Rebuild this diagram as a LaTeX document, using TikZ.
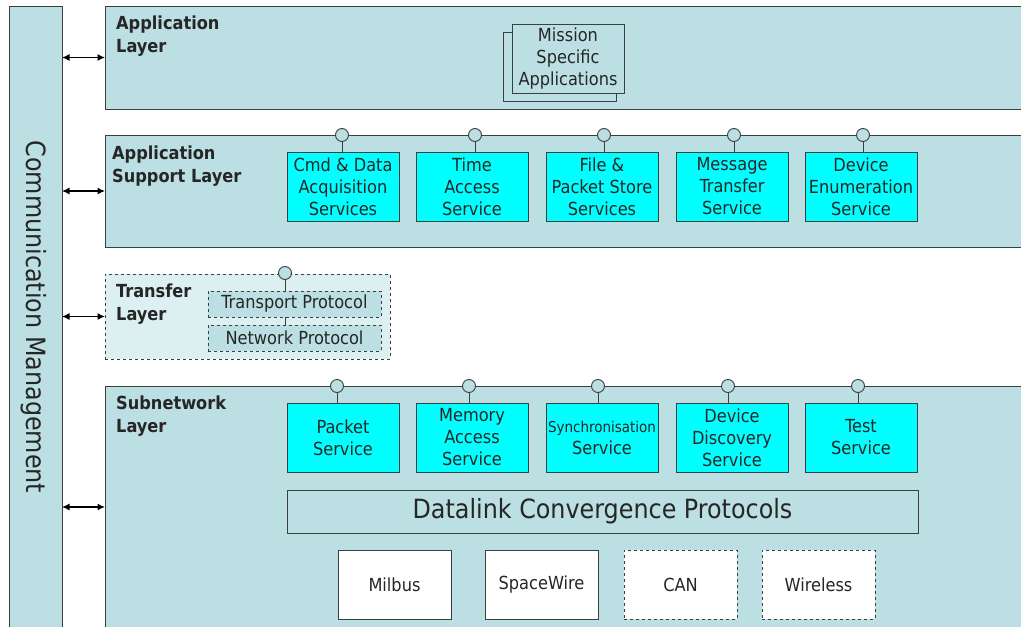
\documentclass[tikz,border=0pt]{standalone}
\usepackage{fontspec}
\setmainfont{DejaVu Sans Condensed}
\usetikzlibrary{arrows.meta,positioning}
\definecolor{layerfill}{HTML}{BBDFE2}
\definecolor{xferfill}{HTML}{DCEFF1}
\definecolor{svcfill}{HTML}{00FFFF}
\definecolor{edge}{HTML}{3A3F40}
\definecolor{ink}{HTML}{262626}
\tikzset{
  layer/.style={draw=edge, fill=layerfill, line width=1pt, anchor=north west, inner sep=0pt, outer sep=0pt},
  laylab/.style={anchor=north west, align=left, text=ink, inner sep=0pt, font=\bfseries\fontsize{18}{23}\selectfont},
  svc/.style={draw=edge, fill=svcfill, line width=0.9pt, minimum width=112pt, minimum height=69pt, anchor=north west,
    align=center, text=ink, inner sep=0pt, outer sep=0pt, font=\fontsize{18}{22}\selectfont},
  phy/.style={draw=edge, fill=white, line width=0.9pt, minimum width=113pt, minimum height=69pt, anchor=north west,
    text=ink, inner sep=0pt, outer sep=0pt, font=\fontsize{18}{22}\selectfont},
  proto/.style={draw=edge, fill=layerfill, dashed, line width=0.9pt, minimum width=173pt, minimum height=26pt,
    anchor=north west, text=ink, inner sep=0pt, outer sep=0pt, font=\fontsize{18}{22}\selectfont},
  sap/.style={circle, draw=edge, fill=layerfill, minimum size=13pt, inner sep=0pt, outer sep=0pt, line width=0.9pt},
  link/.style={{Latex[length=7.5pt,width=7pt]}-{Latex[length=7.5pt,width=7pt]}, line width=1.2pt, black}
}
\begin{document}
\begin{tikzpicture}[x=1pt,y=-1pt]
  \useasboundingbox (0,0) rectangle (1021,627);
  \clip (0,0) rectangle (1021,627);

  % communication management bar
  \node[layer, minimum width=53pt, minimum height=630pt] (cm) at (9,6) {};
  \node[rotate=-90, text=ink, font=\fontsize{26.5}{30}\selectfont] (cmlab) at (34,317) {Communication Management};

  % layers
  \node[layer, minimum width=925pt, minimum height=103pt] (al) at (105,6) {};
  \node[layer, minimum width=925pt, minimum height=112pt] (asl) at (105,135) {};
  \node[layer, dashed, fill=xferfill, minimum width=285pt, minimum height=85pt] (tl) at (105,274) {};
  \node[layer, minimum width=925pt, minimum height=242pt] (sl) at (105,386) {};

  \node[laylab] (allab) at (116,16) {Application\\Layer};
  \node[laylab] (asllab) at (112,146) {Application\\Support Layer};
  \node[laylab] (tllab) at (116,284) {Transfer\\Layer};
  \node[laylab] (sllab) at (116,396) {Subnetwork\\Layer};

  \foreach \l in {al,asl,tl,sl}
    \draw[link] (cm.east |- \l.west) -- (\l.west);

  % mission specific applications
  \node[layer, line width=0.9pt, minimum width=113pt, minimum height=69pt] (msback) at (503,32) {};
  \node[layer, line width=0.9pt, minimum width=112pt, minimum height=69pt, align=center, text=ink,
    font=\fontsize{18}{22}\selectfont] (ms) at (512,24) {Mission\\Specific\\Applications};

  % application support services
  \foreach \x/\c/\txt [count=\i] in {287/342/{Cmd \& Data\\Acquisition\\Services},
      416/475/{Time\\Access\\Service}, 546/604/{File \&\\Packet Store\\Services},
      676/734/{Message\\Transfer\\Service}, 805/863/{Device\\Enumeration\\Service}} {
    \node[svc] (as\i) at (\x,152) {\txt};
    \node[sap] (asap\i) at (\c,135) {};
    \draw[edge, line width=0.9pt] (asap\i.south) -- (asap\i.south |- as\i.north);
  }

  % transfer layer protocols
  \node[proto] (tp) at (208,291) {Transport Protocol};
  \node[proto] (np) at (208,325) {Network Protocol};
  \node[sap] (tsap) at (285,273) {};
  \draw[edge, line width=0.9pt] (tsap.south) -- (tsap.south |- tp.north);
  \draw[edge, line width=0.9pt] (tp.south -| tsap) -- (np.north -| tsap);

  % subnetwork services
  \foreach \x/\c/\txt [count=\i] in {287/337/{Packet\\Service}, 416/469/{Memory\\Access\\Service},
      546/598/{{\fontsize{15}{18}\selectfont Synchronisation}\\Service},
      676/728/{Device\\Discovery\\Service}, 805/858/{Test\\Service}} {
    \node[svc] (ss\i) at (\x,403) {\txt};
    \node[sap] (ssap\i) at (\c,386) {};
    \draw[edge, line width=0.9pt] (ssap\i.south) -- (ssap\i.south |- ss\i.north);
  }

  \node[layer, line width=0.9pt, minimum width=631pt, minimum height=43pt, text=ink,
    font=\fontsize{26.5}{30}\selectfont] (dcp) at (287,490) {Datalink Convergence Protocols};

  % physical links
  \node[phy] (milbus) at (338,550) {Milbus};
  \node[phy] (spw) at (485,550) {SpaceWire};
  \node[phy, dashed] (can) at (624,550) {CAN};
  \node[phy, dashed] (wireless) at (762,550) {Wireless};
\end{tikzpicture}
\end{document}
